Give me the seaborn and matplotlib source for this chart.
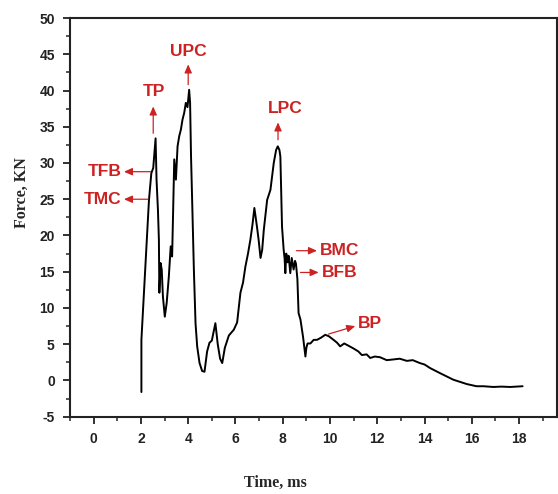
import pandas as pd
import matplotlib
matplotlib.use("Agg")
import matplotlib.pyplot as plt
import seaborn as sns
from matplotlib.ticker import MultipleLocator

# Force-time trace
time_ms = [2.02, 2.02, 2.34, 2.44, 2.52, 2.62, 2.66, 2.72, 2.76, 2.78, 2.83, 2.88,
           2.93, 3.01, 3.09, 3.18, 3.26, 3.32, 3.37, 3.41, 3.48, 3.55, 3.62, 3.69,
           3.76, 3.83, 3.90, 3.97, 4.04, 4.08, 4.12, 4.17, 4.24, 4.31, 4.38, 4.48,
           4.59, 4.69, 4.80, 4.90, 5.00, 5.15, 5.25, 5.35, 5.44, 5.55, 5.72, 5.93,
           6.07, 6.21, 6.32, 6.42, 6.53, 6.63, 6.72, 6.80, 6.91, 6.98, 7.06, 7.13,
           7.20, 7.34, 7.48, 7.62, 7.72, 7.79, 7.86, 7.90, 7.97, 8.04, 8.08, 8.11,
           8.15, 8.20, 8.25, 8.32, 8.38, 8.46, 8.52, 8.56, 8.62, 8.67, 8.75, 8.86,
           8.96, 9.00, 9.05, 9.17, 9.31, 9.45, 9.62, 9.80, 9.95, 10.15, 10.30, 10.43,
           10.60, 10.72, 11.00, 11.20, 11.35, 11.55, 11.70, 11.90, 12.12, 12.40,
           12.69, 12.95, 13.25, 13.50, 13.80, 14.00, 14.24, 14.66, 15.22,
           15.79, 16.20, 16.50, 16.91, 17.25, 17.62, 18.15]
force_kn = [-1.6, 5.6, 24.9, 28.6, 29.3, 33.4, 27.7, 23.5, 19.4, 12.1, 16.2, 15.3,
            11.6, 8.8, 10.7, 14.3, 18.5, 17.1, 24.5, 30.5, 27.7, 32.3, 33.7, 34.6,
            36.0, 36.9, 38.3, 37.7, 40.1, 38.3, 30.9, 24.5, 15.3, 7.9, 4.7, 2.4,
            1.3, 1.2, 4.0, 5.2, 5.5, 7.9, 5.0, 3.0, 2.4, 4.5, 6.2, 7.0,
            8.0, 12.1, 13.5, 15.7, 17.5, 19.4, 21.5, 23.8, 21.2, 19.4, 16.9, 18.0,
            20.8, 24.9, 26.3, 30.0, 31.8, 32.3, 31.8, 30.9, 21.2, 18.0, 16.8, 14.8,
            17.5, 16.3, 17.2, 14.8, 16.9, 15.3, 16.5, 16.1, 14.0, 9.3, 8.4, 6.0,
            3.3, 4.5, 5.1, 5.1, 5.6, 5.6, 5.9, 6.3, 6.1, 5.6, 5.2, 4.7,
            5.1, 4.9, 4.4, 4.0, 3.5, 3.6, 3.1, 3.3, 3.2, 2.8,
            2.9, 3.0, 2.7, 2.8, 2.4, 2.2, 1.7, 1.0, 0.1,
            -0.5, -0.8, -0.8, -0.9, -0.85, -0.9, -0.8]

# Annotations: label, text position, arrow tail, arrow head
labels = ["TP", "UPC", "LPC", "TFB", "TMC", "BMC", "BFB", "BP"]
text_xy = [(2.53, 39.8), (4.0, 45.4), (8.1, 37.5), (0.45, 28.8), (0.37, 25.0),
           (10.4, 17.9), (10.43, 14.9), (11.7, 7.8)]
tail_xy = [(2.52, 34.1), (4.0, 40.8), (7.8, 33.2), (2.41, 28.8), (2.3, 25.0),
           (8.58, 17.9), (8.75, 14.9), (9.94, 6.4)]
head_xy = [(2.52, 37.8), (4.0, 43.6), (7.8, 35.6), (1.28, 28.8), (1.28, 25.0),
           (9.45, 17.9), (9.52, 14.9), (11.07, 7.5)]

df = pd.DataFrame({"time": time_ms, "force": force_kn})

sns.set_style("ticks")
plt.rcParams["font.family"] = ["Liberation Sans", "DejaVu Sans"]
plt.rcParams["axes.unicode_minus"] = False

fig = plt.figure(figsize=(5.58, 4.94), dpi=100)
ax = fig.add_axes([0.1255, 0.1565, 0.8725, 0.807])

sns.lineplot(data=df, x="time", y="force", ax=ax, color="black", linewidth=1.4,
             estimator=None, sort=False)

red = "#cc2222"
for lab, t, s, h in zip(labels, text_xy, tail_xy, head_xy):
    ax.annotate("", xy=h, xytext=s,
                arrowprops=dict(arrowstyle="-|>,head_length=0.5,head_width=0.22",
                                color=red, lw=0.9, shrinkA=0, shrinkB=0))
    ax.text(t[0], t[1], lab, color=red, fontsize=12.5, fontweight="bold",
            ha="center", va="center")

ax.set_xlim(-1, 19.6)
ax.set_ylim(-5, 50)
ax.xaxis.set_major_locator(MultipleLocator(2))
ax.xaxis.set_minor_locator(MultipleLocator(1))
ax.yaxis.set_major_locator(MultipleLocator(5))
ax.yaxis.set_minor_locator(MultipleLocator(2.5))
ax.set_xticks(range(0, 19, 2))
ax.tick_params(which="major", direction="out", length=5, width=1.3, labelsize=10,
               pad=6, colors="#222222")
ax.tick_params(which="minor", direction="out", length=3, width=1.1)
for lbl in ax.get_xticklabels() + ax.get_yticklabels():
    lbl.set_fontweight("bold")
for sp in ax.spines.values():
    sp.set_visible(True)
    sp.set_linewidth(1.5)
    sp.set_color("#222222")

ax.set_xlabel("Time, ms", family=["Liberation Serif"], fontweight="bold",
              fontsize=11.5, va="center")
ax.set_ylabel("Force, KN", family=["Liberation Serif"], fontweight="bold",
              fontsize=11.5, va="center")
ax.xaxis.set_label_coords(0.421, -0.166)
ax.yaxis.set_label_coords(-0.099, 0.561)

fig.savefig("out.png", dpi=100)
